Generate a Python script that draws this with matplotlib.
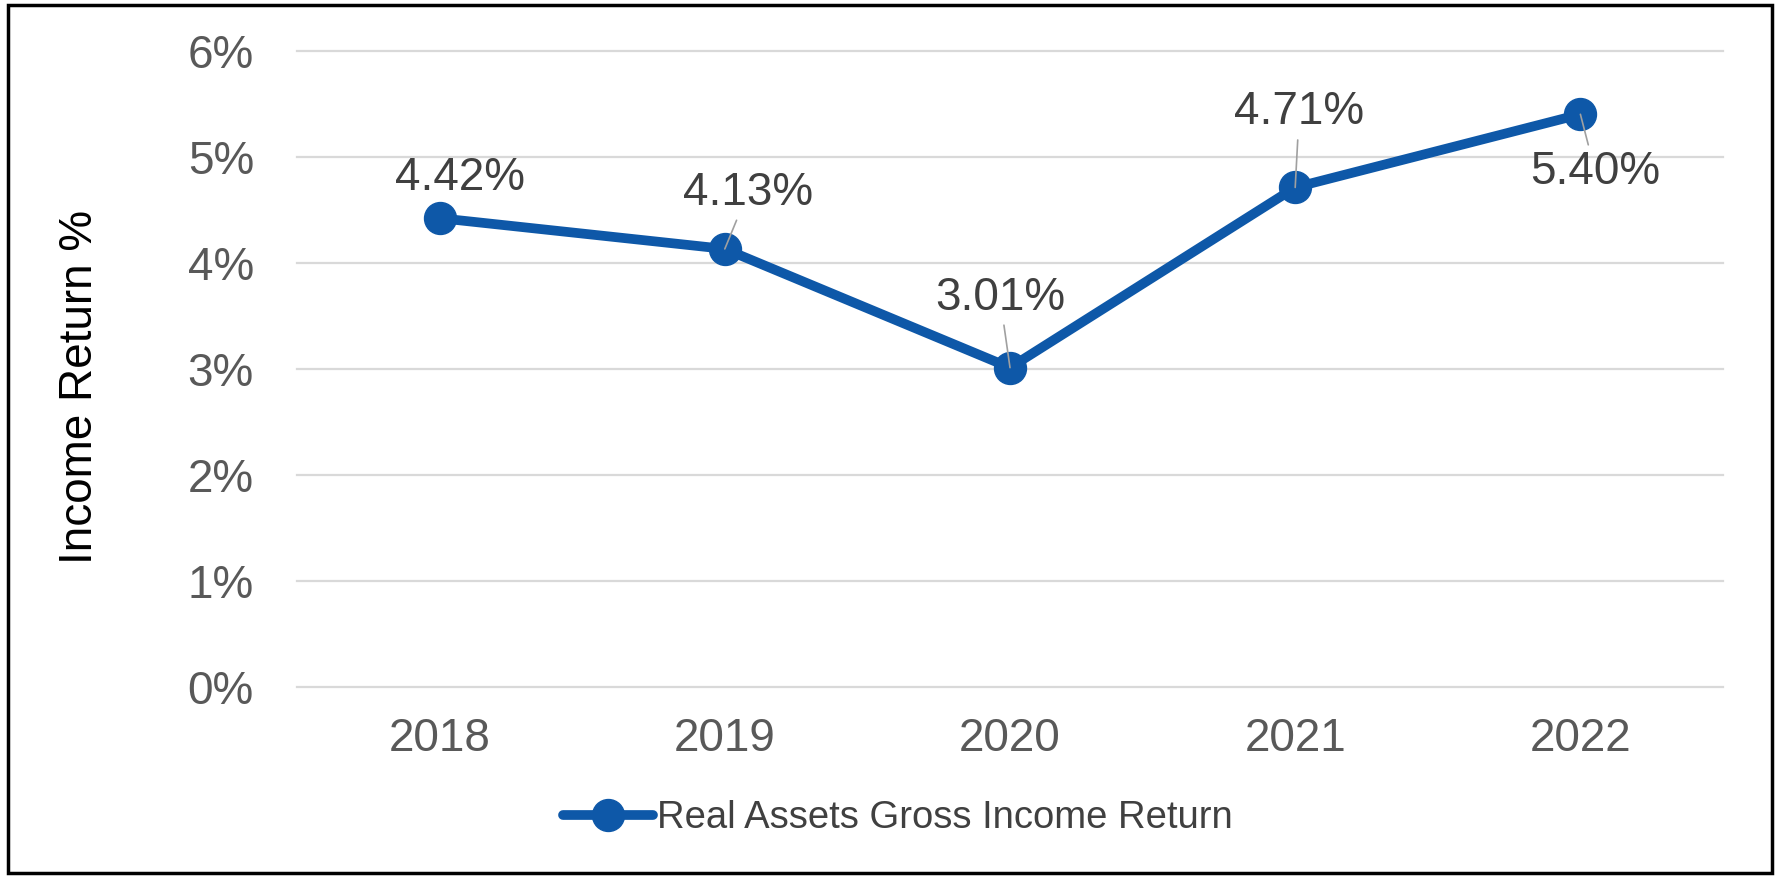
import matplotlib
matplotlib.use("Agg")
import matplotlib.pyplot as plt
from matplotlib.patches import Rectangle
from matplotlib.ticker import FuncFormatter

plt.rcParams['font.family'] = ['Liberation Sans', 'DejaVu Sans']

years = ["2018", "2019", "2020", "2021", "2022"]
income_return = [4.42, 4.13, 3.01, 4.71, 5.40]
labels = ["4.42%", "4.13%", "3.01%", "4.71%", "5.40%"]
series_name = "Real Assets Gross Income Return"
y_ticks = [0, 1, 2, 3, 4, 5, 6]

W, H, DPI = 1776, 877, 100
fig = plt.figure(figsize=(W / DPI, H / DPI), dpi=DPI)
ax = fig.add_axes([297 / W, 1 - 686.7 / H, (1723 - 297) / W, (686.7 - 50.7) / H])

blue = '#0E58A8'
x = list(range(len(years)))
line, = ax.plot(x, income_return, color=blue, lw=7.0, marker='o', markersize=23,
                markerfacecolor=blue, markeredgecolor=blue, label=series_name,
                solid_capstyle='round', solid_joinstyle='round', zorder=3)

ax.set_xlim(-0.5, len(years) - 0.5)
ax.set_ylim(0, 6)
ax.set_yticks(y_ticks)
ax.yaxis.set_major_formatter(FuncFormatter(lambda v, p: f"{int(v)}%"))
ax.set_xticks(x)
ax.set_xticklabels(years)
ax.tick_params(axis='both', length=0, labelsize=33, labelcolor='#595959')
ax.tick_params(axis='y', pad=31)
ax.tick_params(axis='x', pad=22)
ax.grid(axis='y', color='#D9D9D9', lw=1.6)
ax.set_axisbelow(True)
for gl in ax.yaxis.get_gridlines():
    gl.set_clip_on(False)
for s in ax.spines.values():
    s.set_visible(False)

# data labels: offsets in pixels (dx, dy upward positive)
offsets_px = [(20, 40), (23, 56), (-10, 70), (4, 75), (15, -58)]
leader = [False, True, True, True, True]
for xi, yi, lab, (dx, dy), ld in zip(x, income_return, labels, offsets_px, leader):
    kw = {}
    if ld:
        kw['arrowprops'] = dict(arrowstyle='-', color='#A0A0A0', lw=1.2,
                                shrinkA=2, shrinkB=0)
    ax.annotate(lab, xy=(xi, yi), xytext=(dx * 0.72, dy * 0.72),
                textcoords='offset points', ha='center', va='center',
                fontsize=33, color='#404040', zorder=5, **kw)

fig.text(80 / W, 1 - 387 / H, "Income Return %", rotation=90, ha='center',
         va='center', fontsize=33, color='black')

leg = ax.legend(handles=[line], loc='center', bbox_to_anchor=(898 / W, 1 - 818 / H),
                bbox_transform=fig.transFigure, frameon=False, fontsize=27.5,
                handlelength=2.35, handletextpad=0.12, borderpad=0, markerscale=1.0)
for t in leg.get_texts():
    t.set_color('#404040')

fig.add_artist(Rectangle((8 / W, 4 / H), (1772 - 8) / W, (872 - 4) / H,
                         transform=fig.transFigure, fill=False, ec='black', lw=2.5))

fig.savefig("out.png", dpi=DPI, facecolor='white')
